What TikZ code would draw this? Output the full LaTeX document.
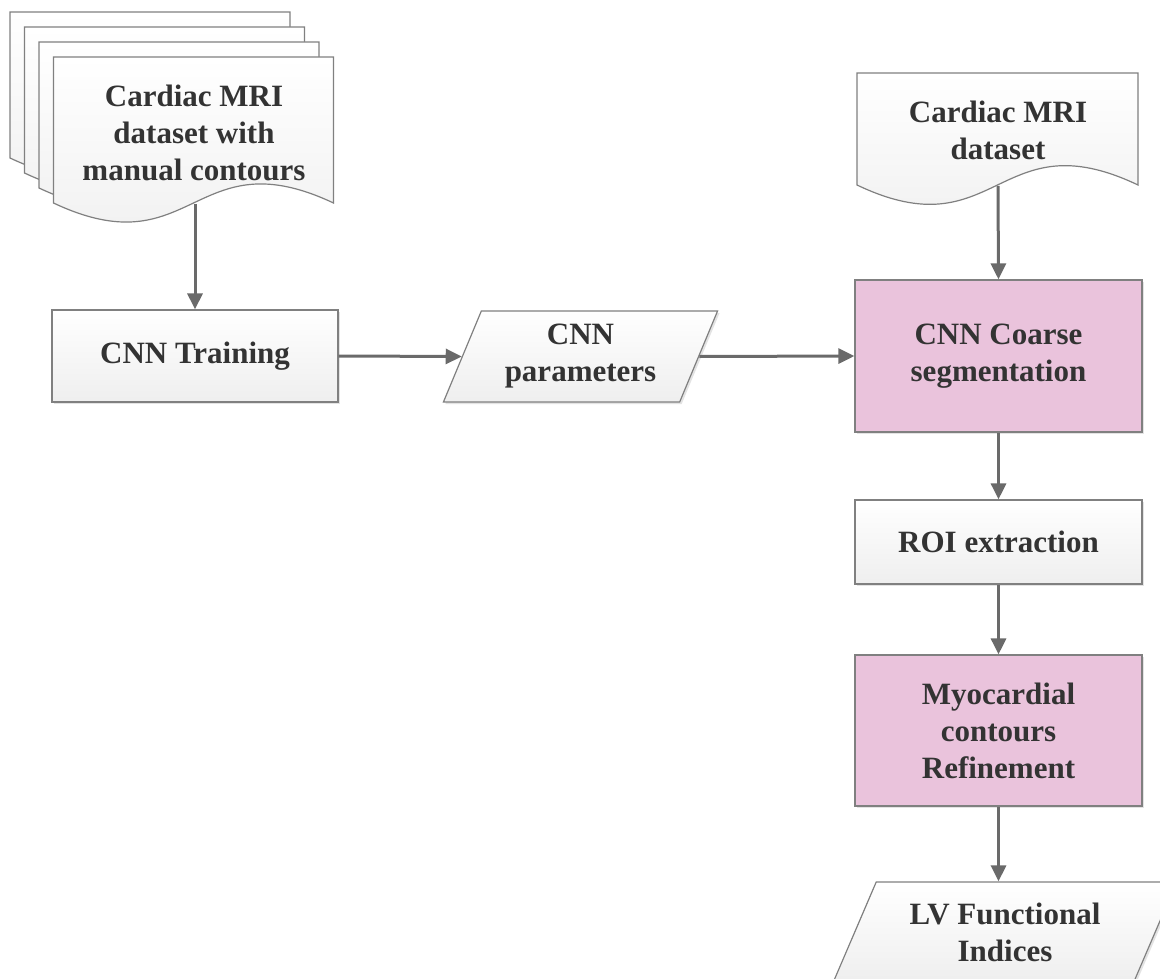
\documentclass[tikz,border=0pt]{standalone}
\usepackage{fontspec}
\setmainfont{Liberation Serif}
\usetikzlibrary{arrows.meta,shapes.geometric,shadows}
\definecolor{txt}{HTML}{333333}
\definecolor{edgec}{HTML}{808080}
\definecolor{arrc}{HTML}{6A6A6A}
\definecolor{pinkf}{HTML}{EAC3DC}
\begin{document}
\begin{tikzpicture}[x=1pt,y=-1pt,
  lbl/.style={font=\fontsize{31}{37}\selectfont\bfseries, text=txt, align=center},
  shadowed/.style={general shadow={fill=gray!22, shadow xshift=2pt, shadow yshift=-2pt}},
  procbox/.style={draw=edgec, line width=1.2pt, top color=white, bottom color=gray!13, shadowed, lbl, inner sep=0pt},
  pinkbox/.style={draw=edgec, line width=1.2pt, fill=pinkf, shadowed, lbl, inner sep=0pt},
  iobox/.style={trapezium, trapezium stretches=true, draw=edgec, line width=1.2pt, top color=white, bottom color=gray!13, shadowed, lbl, inner sep=0pt},
  docshape/.style={draw=edgec, line width=1.2pt, top color=white, bottom color=gray!13},
  conn/.style={draw=arrc, line width=3pt, -{Triangle[length=16pt,width=15pt]}}
]
\useasboundingbox (0,0) rectangle (1160,979);
\fill[white] (0,0) rectangle (1160,979);

% stacked documents
\foreach \k in {0,1,2,3} {
  \pgfmathsetmacro\xa{10+14.5*\k}
  \pgfmathsetmacro\ya{12+15*\k}
  \pgfmathsetmacro\xb{\xa+280}
  \pgfmathsetmacro\yb{\ya+146}
  \pgfmathsetmacro\xm{\xa+140}
  \path[docshape] (\xa,\ya) -- (\xb,\ya) -- (\xb,\yb) .. controls (\xm,\yb-66) and (\xm,\yb+66) .. (\xa,\yb) -- cycle;
}
\node[lbl] (dsA) at (194,133) {Cardiac MRI\\dataset with\\manual contours};
\coordinate (dsAbot) at (195,204);

% single document
\path[docshape] (857,73) -- (1138,73) -- (1138,185) .. controls (997.5,118) and (997.5,252) .. (857,185) -- cycle;
\node[lbl] (dsB) at (998,130) {Cardiac MRI\\dataset};
\coordinate (dsBbot) at (998,186);

% process boxes
\node[procbox, minimum width=286pt, minimum height=92pt] (train) at (195,356) {CNN Training};
\node[iobox, trapezium left angle=65.7, trapezium right angle=114.3, minimum width=275pt, minimum height=91pt] (params) at (580.5,356.5) {CNN\\parameters};
\node[pinkbox, minimum width=287pt, minimum height=152pt] (coarse) at (998.5,356) {CNN Coarse\\segmentation};
\node[procbox, minimum width=287pt, minimum height=84pt] (roi) at (998.5,542) {ROI extraction};
\node[pinkbox, minimum width=287pt, minimum height=151pt] (myo) at (998.5,730.5) {Myocardial\\contours\\Refinement};
\node[iobox, trapezium left angle=61.6, trapezium right angle=118.4, minimum width=344pt, minimum height=100pt] (lv) at (1005,932) {LV Functional\\Indices};

% connectors
\draw[conn] (dsAbot) -- (train.north);
\draw[conn] (train.east) -- (params.west);
\draw[conn] (params.east) -- (coarse.west);
\draw[conn] (dsBbot) -- (coarse.north);
\draw[conn] (coarse.south) -- (roi.north);
\draw[conn] (roi.south) -- (myo.north);
\draw[conn] (myo.south) -- (myo.south |- lv.north);
\end{tikzpicture}
\end{document}
